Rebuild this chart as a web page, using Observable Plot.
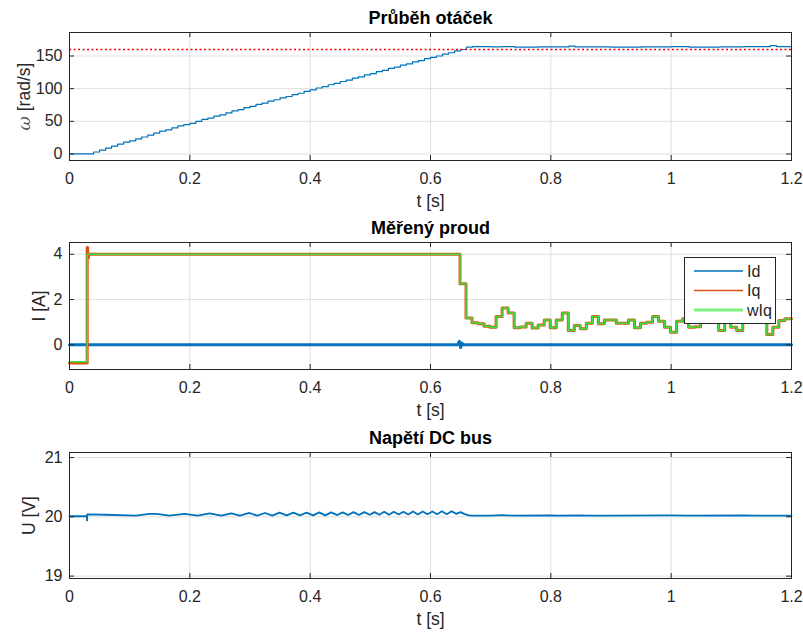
<!DOCTYPE html>
<html><head><meta charset="utf-8">
<script src="https://cdn.jsdelivr.net/npm/d3@7"></script>
<script src="https://cdn.jsdelivr.net/npm/@observablehq/plot@0.6"></script>
<style>
body{margin:0;background:#fff;}
#chart svg{display:block;}
</style></head><body><div id="chart"></div>
<script>
// ---- data ----
const xTicks = [0, 0.2, 0.4, 0.6, 0.8, 1, 1.2];
const xTickLabels = ["0", "0.2", "0.4", "0.6", "0.8", "1", "1.2"];

const titles = ["Průběh otáček", "Měřený proud", "Napětí DC bus"];
const yLabels = ["ω [rad/s]", "I [A]", "U [V]"];
const xLabel = "t [s]";

const omegaTicks = [0, 50, 100, 150];
const iTicks = [0, 2, 4];
const uTicks = [19, 20, 21];

const omegaRef = 160;
const omegaTime = [0,0.04,0.05,0.06,0.07,0.08,0.09,0.10,0.11,0.12,0.13,0.14,0.15,0.16,0.17,0.18,0.19,0.20,0.21,0.22,0.23,0.24,0.25,0.26,0.27,0.28,0.29,0.30,0.31,0.32,0.33,0.34,0.35,0.36,0.37,0.38,0.39,0.40,0.41,0.42,0.43,0.44,0.45,0.46,0.47,0.48,0.49,0.50,0.51,0.52,0.53,0.54,0.55,0.56,0.57,0.58,0.59,0.60,0.61,0.62,0.63,0.64,0.65,0.66,0.67,0.70,0.72,0.74,0.78,0.83,0.84,0.90,0.95,1.00,1.03,1.08,1.12,1.165,1.175,1.2];
const omegaVal = [0,3,6,9,12,15,18,20,23,26,29,32,35,37,40,43,45,47,50,53,55,58,60,63,66,68,71,73,76,78,81,83,86,88,91,93,96,98,101,103,106,108,111,113,116,118,121,123,126,128,131,133,136,138,141,143,146,148,150,153,155,158,160,163.5,164.5,164,164.5,163.5,164,165,164,163.5,164,164.5,163.5,164,164.5,166,164.5,164.5];

const seriesNames = ["Id", "Iq", "wIq"];
const seriesColors = ["#0072BD", "#D95319", "#3ddf3d"];

const idTime = [0, 0.645, 0.648, 0.650, 0.652, 0.655, 1.2];
const idVal  = [0, 0, 0.15, -0.12, 0.08, 0, 0];

const iqTime = [0,0.0294,0.0302,0.0315,0.649,0.659,0.669,0.679,0.689,0.699,0.709,0.719,0.729,0.739,0.749,0.759,0.769,0.779,0.789,0.799,0.809,0.819,0.829,0.839,0.849,0.859,0.869,0.879,0.889,0.899,0.909,0.919,0.929,0.939,0.949,0.959,0.969,0.979,0.989,0.999,1.009,1.019,1.029,1.039,1.049,1.059,1.069,1.079,1.089,1.099,1.109,1.119,1.129,1.139,1.149,1.159,1.169,1.179,1.189,1.2];
const iqVal  = [-0.8,4.3,3.85,4.0,2.7,1.19,0.97,0.93,0.82,0.78,1.25,1.63,1.41,0.75,0.79,0.95,0.74,0.88,1.10,0.75,1.10,1.41,0.63,0.85,0.71,0.95,1.25,0.93,1.10,1.10,0.95,0.95,1.10,0.75,0.95,1.0,1.25,1.04,0.78,0.56,1.04,1.15,0.78,0.80,1.2,1.1,1.0,0.63,1.1,0.78,0.63,1.0,1.1,1.2,1.1,0.46,0.78,1.07,1.15,1.15];

const wiqTime = [0,0.0294,0.649,0.659,0.669,0.679,0.689,0.699,0.709,0.719,0.729,0.739,0.749,0.759,0.769,0.779,0.789,0.799,0.809,0.819,0.829,0.839,0.849,0.859,0.869,0.879,0.889,0.899,0.909,0.919,0.929,0.939,0.949,0.959,0.969,0.979,0.989,0.999,1.009,1.019,1.029,1.039,1.049,1.059,1.069,1.079,1.089,1.099,1.109,1.119,1.129,1.139,1.149,1.159,1.169,1.179,1.189,1.2];
const wiqVal  = [-0.75,4.0,2.7,1.19,0.97,0.93,0.82,0.78,1.25,1.63,1.41,0.75,0.79,0.95,0.74,0.88,1.10,0.75,1.10,1.41,0.63,0.85,0.71,0.95,1.25,0.93,1.10,1.10,0.95,0.95,1.10,0.75,0.95,1.0,1.25,1.04,0.78,0.56,1.04,1.15,0.78,0.80,1.2,1.1,1.0,0.63,1.1,0.78,0.63,1.0,1.1,1.2,1.1,0.46,0.78,1.07,1.15,1.15];

const uTime = [0,0.029,0.0292,0.0295,0.06,0.11,0.133,0.145,0.166,0.191,0.213,0.233,0.252,0.269,0.283,0.299,0.312,0.325,0.337,0.349,0.361,0.372,0.383,0.394,0.405,0.415,0.425,0.435,0.445,0.454,0.463,0.472,0.481,0.490,0.499,0.507,0.515,0.523,0.531,0.539,0.547,0.555,0.563,0.571,0.579,0.587,0.595,0.603,0.611,0.619,0.627,0.635,0.643,0.650,0.656,0.662,0.668,0.70,0.72,0.735,0.80,0.81,0.85,0.86,0.90,1.0,1.03,1.12,1.14,1.2];
const uVal  = [20.01,20.01,19.94,20.04,20.035,20.02,20.05,20.05,20.02,20.05,20.02,20.06,20.02,20.06,20.02,20.065,20.02,20.065,20.02,20.07,20.025,20.07,20.025,20.07,20.025,20.075,20.025,20.075,20.03,20.075,20.03,20.08,20.03,20.08,20.035,20.08,20.035,20.085,20.035,20.085,20.04,20.085,20.04,20.09,20.04,20.09,20.045,20.09,20.045,20.095,20.045,20.095,20.05,20.08,20.05,20.03,20.02,20.02,20.03,20.02,20.025,20.02,20.025,20.02,20.02,20.025,20.02,20.025,20.02,20.02];

// ---- helpers ----
const zip = (t, v) => t.map((d, i) => ({t: d, v: v[i]}));
const W = 803, ML = 69, MR = 12;
const FONT = "'Liberation Sans', Arial, Helvetica, sans-serif";
const INK = "#262626";
const xLabelMap = new Map(xTicks.map((d, i) => [d, xTickLabels[i]]));

function panel({height, marginTop, marginBottom, yDomain, yTicks, title, yLabel, yLabelDx, marks}) {
  const innerH = height - marginTop - marginBottom;
  const innerW = W - ML - MR;
  return Plot.plot({
    width: W, height, marginTop, marginBottom, marginLeft: ML, marginRight: MR,
    x: {domain: [0, 1.2]},
    y: {domain: yDomain},
    style: {fontFamily: FONT, background: "#fff", overflow: "visible"},
    marks: [
      Plot.gridX(xTicks, {stroke: "#dfdfdf", strokeOpacity: 1}),
      Plot.gridY(yTicks, {stroke: "#dfdfdf", strokeOpacity: 1}),
      ...marks,
      Plot.tickX(xTicks, {x: d => d, insetTop: innerH - 5, stroke: INK}),
      Plot.tickX(xTicks, {x: d => d, insetBottom: innerH - 5, stroke: INK}),
      Plot.tickY(yTicks, {y: d => d, insetRight: innerW - 5, stroke: INK}),
      Plot.tickY(yTicks, {y: d => d, insetLeft: innerW - 5, stroke: INK}),
      Plot.frame({stroke: INK, strokeWidth: 1}),
      Plot.axisX(xTicks, {anchor: "bottom", tickSize: 0, tickPadding: 12.5, tickFormat: d => xLabelMap.get(d), fontSize: 16, fill: INK, label: null}),
      Plot.axisY(yTicks, {anchor: "left", tickSize: 0, tickPadding: 7, tickFormat: d => String(d), fontSize: 16, fill: INK, label: null}),
      Plot.text([title], {text: d => d, frameAnchor: "top", lineAnchor: "middle", textAnchor: "middle", dy: -14, fontWeight: "bold", fontSize: 18, fill: "#000"}),
      Plot.text([xLabel], {text: d => d, frameAnchor: "bottom", lineAnchor: "middle", textAnchor: "middle", dy: 41, fontSize: 17.5, fill: INK}),
      Plot.text([yLabel], {text: d => d, frameAnchor: "left", lineAnchor: "middle", textAnchor: "middle", dx: yLabelDx, rotate: -90, fontSize: 17.5, fill: INK})
    ]
  });
}

const chart = document.getElementById("chart");

// Panel 1: speed
const p1 = panel({
  height: 210, marginTop: 32, marginBottom: 50, yDomain: [-10, 186], yTicks: omegaTicks,
  title: titles[0], yLabel: yLabels[0], yLabelDx: -45,
  marks: [
    Plot.line(zip(omegaTime, omegaVal), {x: "t", y: "v", curve: "step-after", stroke: "#0072BD", strokeWidth: 1.2}),
    Plot.ruleY([omegaRef], {stroke: "#ff0000", strokeWidth: 1.6, strokeDasharray: "2,2.5"})
  ]
});
chart.appendChild(p1);
// italic omega
d3.select(p1).selectAll("text").filter(function() { return this.textContent === yLabels[0]; }).each(function() {
  const el = d3.select(this);
  el.text(null);
  el.append("tspan").attr("font-style", "italic").attr("font-family", "'DejaVu Serif', serif").attr("fill", "#555").text("ω");
  el.append("tspan").text(" [rad/s]");
});

// Panel 2: currents
const p2 = panel({
  height: 210, marginTop: 32, marginBottom: 51, yDomain: [-1.09, 4.52], yTicks: iTicks,
  title: titles[1], yLabel: yLabels[1], yLabelDx: -30.5,
  marks: [
    Plot.line(zip(idTime, idVal), {x: "t", y: "v", stroke: seriesColors[0], strokeWidth: 3}),
    Plot.line(zip(iqTime, iqVal), {x: "t", y: "v", curve: "step-after", stroke: seriesColors[1], strokeWidth: 3}),
    Plot.line(zip(wiqTime, wiqVal), {x: "t", y: "v", curve: "step-after", stroke: seriesColors[2], strokeWidth: 1.5})
  ]
});
chart.appendChild(p2);
// legend
{
  const g = d3.select(p2).append("g").attr("font-family", FONT).attr("text-anchor", "start");
  g.append("rect").attr("x", 684.5).attr("y", 47.5).attr("width", 91).attr("height", 66)
    .attr("fill", "#fff").attr("stroke", INK).attr("stroke-width", 1);
  seriesNames.forEach((name, i) => {
    const y = 61 + i * 19.5;
    g.append("line").attr("x1", 694).attr("x2", 743).attr("y1", y).attr("y2", y)
      .attr("stroke", i === 2 ? "#7df27d" : seriesColors[i]).attr("stroke-width", i === 2 ? 3 : 1.3);
    g.append("text").attr("x", 747).attr("y", y).attr("dy", "0.35em").attr("font-size", 16)
      .attr("text-anchor", "start").attr("fill", INK).text(name);
  });
}

// Panel 3: DC bus voltage
const p3 = panel({
  height: 214, marginTop: 32, marginBottom: 56, yDomain: [18.96, 21.085], yTicks: uTicks,
  title: titles[2], yLabel: yLabels[2], yLabelDx: -40,
  marks: [
    Plot.line(zip(uTime, uVal), {x: "t", y: "v", stroke: "#0072BD", strokeWidth: 1.8})
  ]
});
chart.appendChild(p3);
</script>
</body></html>
